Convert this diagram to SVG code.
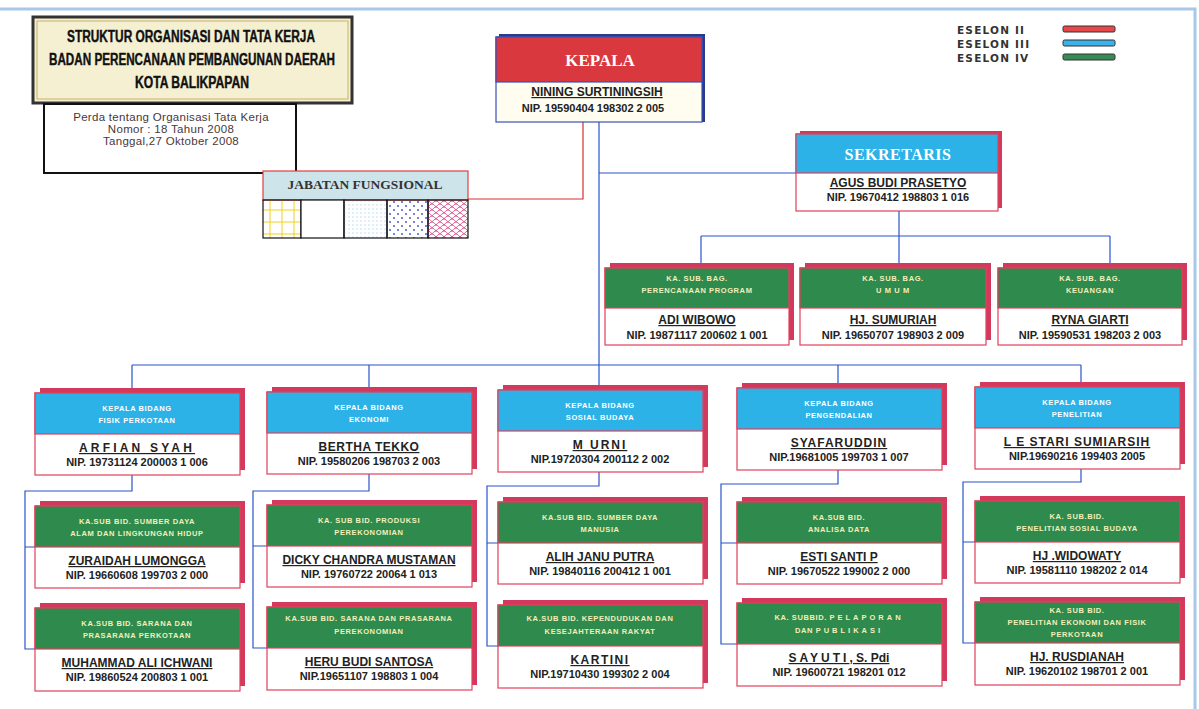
<svg xmlns="http://www.w3.org/2000/svg" width="1199" height="709" viewBox="0 0 1199 709">
<style>
.sh{fill:#d3395d}
.bd{fill:#fff;stroke:#e0405a;stroke-width:1.2}
.hg{fill:#2f8a4e;stroke:#e0405a;stroke-width:1.2}
.hb{fill:#2db2e8;stroke:#e0405a;stroke-width:1.2}
.tg{font-family:"Liberation Sans",Arial,sans-serif;font-weight:bold;font-size:7.5px;fill:#f3efb8;text-anchor:middle;letter-spacing:0.6px}
.tb{font-family:"Liberation Sans",Arial,sans-serif;font-weight:bold;font-size:7.5px;fill:#fff;text-anchor:middle;letter-spacing:0.6px}
.nm{font-family:"Liberation Sans",Arial,sans-serif;font-weight:bold;font-size:12px;fill:#222;text-anchor:middle;text-decoration:underline}
.nip{font-family:"Liberation Sans",Arial,sans-serif;font-weight:bold;font-size:11px;fill:#222;text-anchor:middle}
.ln{stroke:#2a55c8;stroke-width:1.2;fill:none}
.rl{stroke:#d33030;stroke-width:1.2;fill:none}
.big{font-family:"Liberation Serif","Times New Roman",serif;font-weight:bold;fill:#fff;text-anchor:middle}
.ttl{font-family:"Liberation Sans",Arial,sans-serif;font-weight:bold;font-size:16px;fill:#111;text-anchor:middle;stroke:#111;stroke-width:0.4}
.prd{font-family:"Liberation Sans",Arial,sans-serif;font-size:11.5px;fill:#4a3838;text-anchor:middle;letter-spacing:0.3px}
.leg{font-family:"DejaVu Sans",Verdana,sans-serif;font-weight:bold;font-size:10.5px;fill:#333;letter-spacing:1.2px}
.cell{stroke:#111;stroke-width:1.2}
</style>
<defs>
<pattern id="pGrid" width="12" height="12" patternUnits="userSpaceOnUse"><path d="M0 6H12M6 0V12" stroke="#f0cf20" stroke-width="1"/></pattern>
<pattern id="pDotL" width="4" height="4" patternUnits="userSpaceOnUse"><circle cx="1" cy="1" r="0.7" fill="#a9d4ec"/></pattern>
<pattern id="pDotB" width="8" height="8" patternUnits="userSpaceOnUse"><circle cx="2" cy="2" r="1" fill="#4a5ad8"/><circle cx="6" cy="6" r="1" fill="#4a5ad8"/></pattern>
<pattern id="pScale" width="8" height="6" patternUnits="userSpaceOnUse"><path d="M0 6Q4 0 8 6M-4 3Q0 -3 4 3M4 3Q8 -3 12 3" fill="none" stroke="#d03a7a" stroke-width="0.8"/></pattern>
</defs>
<rect width="1199" height="709" fill="#fff"/>
<path d="M0 9H1195V709" fill="none" stroke="#a8c8e8" stroke-width="3"/>

<g id="title">
<rect x="33" y="17" width="319" height="86" fill="#f5f0d2" stroke="#333" stroke-width="3"/>
<rect x="37" y="21" width="311" height="78" fill="none" stroke="#c9b264" stroke-width="1"/>
<text class="ttl" x="191" y="42" textLength="248" lengthAdjust="spacingAndGlyphs">STRUKTUR ORGANISASI DAN TATA KERJA</text>
<text class="ttl" x="192" y="65" textLength="286" lengthAdjust="spacingAndGlyphs">BADAN PERENCANAAN PEMBANGUNAN DAERAH</text>
<text class="ttl" x="192" y="88" textLength="114" lengthAdjust="spacingAndGlyphs">KOTA BALIKPAPAN</text>
</g>
<g id="perda">
<rect x="44" y="104" width="252" height="69" fill="#fff" stroke="#111" stroke-width="2"/>
<text class="prd" x="171" y="121">Perda tentang Organisasi Tata Kerja</text>
<text class="prd" x="171" y="133">Nomor : 18 Tahun  2008</text>
<text class="prd" x="171" y="145">Tanggal,27 Oktober 2008</text>
</g>
<g id="legend">
<text class="leg" x="957" y="34">ESELON II</text>
<text class="leg" x="957" y="48">ESELON III</text>
<text class="leg" x="957" y="62">ESELON IV</text>
<rect x="1063" y="26" width="52" height="6" rx="1.5" fill="#e8474a" stroke="#333" stroke-width="1"/>
<rect x="1063" y="40" width="52" height="6" rx="1.5" fill="#3ab2ea" stroke="#333" stroke-width="1"/>
<rect x="1063" y="54" width="52" height="6" rx="1.5" fill="#3a8a55" stroke="#333" stroke-width="1"/>
</g>

<g id="connectors">
<path class="rl" d="M583 122V199H468"/>
<path class="ln" d="M599 122V390M599 173H796"/>
<path class="ln" d="M899 211V236M701 236H1110M701 236V268M899 236V268M1110 236V268"/>
<path class="ln" d="M132 365H1081M132 365V393M369 365V392M838 365V388M1081 365V387"/>
<path class="ln" d="M132 475V491H25V649H35M25 547H35"/>
<path class="ln" d="M369 474V491H253V648H267M253 546H267"/>
<path class="ln" d="M599 472V486H487V646H498M487 543H498"/>
<path class="ln" d="M838 470V484H721V644H737M721 543H737"/>
<path class="ln" d="M1081 469V482H963V643H975M963 542H975"/>
</g>

<g id="kepala">
<rect x="499" y="34" width="206" height="88" fill="#2a3a8a"/>
<rect x="496" y="37" width="206" height="85" fill="#fffdf0" stroke="#3a50b8" stroke-width="1.2"/>
<rect x="496" y="37" width="206" height="45" fill="#d8383e" stroke="#3a50b8" stroke-width="1.2"/>
<text class="big" x="600" y="66" font-size="17">KEPALA</text>
<text class="nm" x="597" y="96">NINING SURTININGSIH</text>
<text class="nip" x="593" y="112">NIP. 19590404 198302 2 005</text>
</g>

<g id="jabatan-fungsional">
<rect x="263" y="171" width="205" height="29" fill="#cde4ea" stroke="#e04040" stroke-width="1.2"/>
<text x="365" y="189" font-family="Liberation Serif,serif" font-weight="bold" font-size="11.5" fill="#333" text-anchor="middle" textLength="155" lengthAdjust="spacingAndGlyphs">JABATAN FUNGSIONAL</text>
<rect class="cell" x="263" y="200" width="38" height="38" fill="url(#pGrid)"/>
<rect class="cell" x="301" y="200" width="43" height="38" fill="#fff"/>
<rect class="cell" x="344" y="200" width="43" height="38" fill="url(#pDotL)"/>
<rect class="cell" x="387" y="200" width="41" height="38" fill="url(#pDotB)"/>
<rect class="cell" x="428" y="200" width="40" height="38" fill="url(#pScale)"/>
</g>

<g id="sekretaris">
<rect class="sh" x="800" y="131" width="202" height="77"/>
<rect class="bd" x="796" y="134" width="202" height="77"/>
<rect class="hb" x="796" y="134" width="202" height="39"/>
<text class="big" x="898" y="160" font-size="16" letter-spacing="0.5">SEKRETARIS</text>
<text class="nm" x="898" y="187" font-size="11">AGUS BUDI PRASETYO</text>
<text class="nip" x="898" y="201">NIP. 19670412 198803 1 016</text>
</g>

<g id="subbag-program" transform="translate(605,268)">
<rect class="sh" x="5" y="-5" width="184" height="77"/><rect class="bd" width="184" height="77"/><rect class="hg" width="184" height="40"/>
<text class="tg" x="92" y="13">KA. SUB. BAG.</text><text class="tg" x="92" y="25">PERENCANAAN  PROGRAM</text>
<text class="nm" x="92" y="56">ADI  WIBOWO</text><text class="nip" x="92" y="71">NIP. 19871117 200602 1 001</text>
</g>
<g id="subbag-umum" transform="translate(800,268)">
<rect class="sh" x="5" y="-5" width="186" height="77"/><rect class="bd" width="186" height="77"/><rect class="hg" width="186" height="40"/>
<text class="tg" x="93" y="13">KA. SUB. BAG.</text><text class="tg" x="93" y="25" letter-spacing="4">U M U M</text>
<text class="nm" x="93" y="56">HJ. SUMURIAH</text><text class="nip" x="93" y="71">NIP. 19650707 198903 2 009</text>
</g>
<g id="subbag-keuangan" transform="translate(998,268)">
<rect class="sh" x="5" y="-5" width="184" height="77"/><rect class="bd" width="184" height="77"/><rect class="hg" width="184" height="40"/>
<text class="tg" x="92" y="13">KA. SUB. BAG.</text><text class="tg" x="92" y="25">KEUANGAN</text>
<text class="nm" x="92" y="56">RYNA GIARTI</text><text class="nip" x="92" y="71">NIP. 19590531 198203 2 003</text>
</g>

<g id="bidang-fisik" transform="translate(35,393)">
<rect class="sh" x="5" y="-5" width="205" height="82"/><rect class="bd" width="205" height="82"/><rect class="hb" width="205" height="41"/>
<text class="tb" x="102" y="18">KEPALA BIDANG</text><text class="tb" x="102" y="30">FISIK PERKOTAAN</text>
<text class="nm" x="102" y="59" letter-spacing="3.2">ARFIAN SYAH</text><text class="nip" x="102" y="73">NIP. 19731124 200003 1 006</text>
</g>
<g id="bidang-ekonomi" transform="translate(267,392)">
<rect class="sh" x="5" y="-5" width="205" height="82"/><rect class="bd" width="205" height="82"/><rect class="hb" width="205" height="41"/>
<text class="tb" x="102" y="18">KEPALA BIDANG</text><text class="tb" x="102" y="30">EKONOMI</text>
<text class="nm" x="102" y="59" letter-spacing="0.5">BERTHA TEKKO</text><text class="nip" x="102" y="73">NIP. 19580206 198703 2 003</text>
</g>
<g id="bidang-sosbud" transform="translate(498,390)">
<rect class="sh" x="5" y="-5" width="205" height="82"/><rect class="bd" width="205" height="82"/><rect class="hb" width="205" height="41"/>
<text class="tb" x="102" y="18">KEPALA BIDANG</text><text class="tb" x="102" y="30">SOSIAL BUDAYA</text>
<text class="nm" x="102" y="59" letter-spacing="2">M URNI</text><text class="nip" x="102" y="73">NIP.19720304 200112 2 002</text>
</g>
<g id="bidang-pengendalian" transform="translate(737,388)">
<rect class="sh" x="5" y="-5" width="205" height="82"/><rect class="bd" width="205" height="82"/><rect class="hb" width="205" height="41"/>
<text class="tb" x="102" y="18">KEPALA BIDANG</text><text class="tb" x="102" y="30">PENGENDALIAN</text>
<text class="nm" x="102" y="59" letter-spacing="1">SYAFARUDDIN</text><text class="nip" x="102" y="73">NIP.19681005 199703 1 007</text>
</g>
<g id="bidang-penelitian" transform="translate(975,387)">
<rect class="sh" x="5" y="-5" width="205" height="82"/><rect class="bd" width="205" height="82"/><rect class="hb" width="205" height="41"/>
<text class="tb" x="102" y="18">KEPALA BIDANG</text><text class="tb" x="102" y="30">PENELITIAN</text>
<text class="nm" x="102" y="59" letter-spacing="1">L E STARI SUMIARSIH</text><text class="nip" x="102" y="73">NIP.19690216 199403 2005</text>
</g>

<g id="subbid-sda-lh" transform="translate(35,506)">
<rect class="sh" x="5" y="-5" width="205" height="82"/><rect class="bd" width="205" height="82"/><rect class="hg" width="205" height="41"/>
<text class="tg" x="102" y="18">KA.SUB BID.  SUMBER DAYA</text><text class="tg" x="102" y="30">ALAM DAN LINGKUNGAN  HIDUP</text>
<text class="nm" x="102" y="59">ZURAIDAH LUMONGGA</text><text class="nip" x="102" y="73">NIP. 19660608 199703 2 000</text>
</g>
<g id="subbid-produksi" transform="translate(267,505)">
<rect class="sh" x="5" y="-5" width="205" height="82"/><rect class="bd" width="205" height="82"/><rect class="hg" width="205" height="41"/>
<text class="tg" x="102" y="18">KA. SUB BID. PRODUKSI</text><text class="tg" x="102" y="30">PEREKONOMIAN</text>
<text class="nm" x="102" y="59">DICKY CHANDRA MUSTAMAN</text><text class="nip" x="102" y="73">NIP. 19760722 20064 1 013</text>
</g>
<g id="subbid-sdm" transform="translate(498,502)">
<rect class="sh" x="5" y="-5" width="205" height="82"/><rect class="bd" width="205" height="82"/><rect class="hg" width="205" height="41"/>
<text class="tg" x="102" y="18">KA.SUB BID.  SUMBER DAYA</text><text class="tg" x="102" y="30">MANUSIA</text>
<text class="nm" x="102" y="59">ALIH JANU PUTRA</text><text class="nip" x="102" y="73">NIP. 19840116 200412 1 001</text>
</g>
<g id="subbid-analisa" transform="translate(737,502)">
<rect class="sh" x="5" y="-5" width="205" height="82"/><rect class="bd" width="205" height="82"/><rect class="hg" width="205" height="41"/>
<text class="tg" x="102" y="18">KA.SUB BID.</text><text class="tg" x="102" y="30">ANALISA DATA</text>
<text class="nm" x="102" y="59">ESTI SANTI P</text><text class="nip" x="102" y="73">NIP. 19670522 199002 2 000</text>
</g>
<g id="subbid-sosbud" transform="translate(975,501)">
<rect class="sh" x="5" y="-5" width="205" height="82"/><rect class="bd" width="205" height="82"/><rect class="hg" width="205" height="41"/>
<text class="tg" x="102" y="18">KA. SUB.BID.</text><text class="tg" x="102" y="30">PENELITIAN SOSIAL BUDAYA</text>
<text class="nm" x="102" y="59">HJ .WIDOWATY</text><text class="nip" x="102" y="73">NIP. 19581110 198202 2 014</text>
</g>

<g id="subbid-sarana-kota" transform="translate(35,608)">
<rect class="sh" x="5" y="-5" width="205" height="83"/><rect class="bd" width="205" height="83"/><rect class="hg" width="205" height="41"/>
<text class="tg" x="102" y="18">KA.SUB BID.  SARANA DAN</text><text class="tg" x="102" y="30">PRASARANA  PERKOTAAN</text>
<text class="nm" x="102" y="59">MUHAMMAD ALI ICHWANI</text><text class="nip" x="102" y="73">NIP. 19860524 200803 1 001</text>
</g>
<g id="subbid-sarana-eko" transform="translate(267,607)">
<rect class="sh" x="5" y="-5" width="205" height="83"/><rect class="bd" width="205" height="83"/><rect class="hg" width="205" height="41"/>
<text class="tg" x="102" y="14">KA.SUB BID.  SARANA DAN PRASARANA</text><text class="tg" x="102" y="27">PEREKONOMIAN</text>
<text class="nm" x="102" y="59">HERU  BUDI  SANTOSA</text><text class="nip" x="102" y="73">NIP.19651107 198803 1 004</text>
</g>
<g id="subbid-kependudukan" transform="translate(498,605)">
<rect class="sh" x="5" y="-5" width="205" height="83"/><rect class="bd" width="205" height="83"/><rect class="hg" width="205" height="41"/>
<text class="tg" x="102" y="16">KA.SUB BID. KEPENDUDUKAN  DAN</text><text class="tg" x="102" y="29">KESEJAHTERAAN RAKYAT</text>
<text class="nm" x="102" y="59" letter-spacing="1.5">KARTINI</text><text class="nip" x="102" y="73">NIP.19710430 199302 2 004</text>
</g>
<g id="subbid-pelaporan" transform="translate(737,603)">
<rect class="sh" x="5" y="-5" width="205" height="83"/><rect class="bd" width="205" height="83"/><rect class="hg" width="205" height="41"/>
<text class="tg" x="102" y="17">KA. SUBBID. <tspan letter-spacing="3">PELAPORAN</tspan></text><text class="tg" x="102" y="30">DAN  <tspan letter-spacing="3">PUBLIKASI</tspan></text>
<text class="nm" x="102" y="59"><tspan letter-spacing="3">SAYUTI</tspan>, S. Pdi</text><text class="nip" x="102" y="73">NIP. 19600721 198201 012</text>
</g>
<g id="subbid-ekonomi-fisik" transform="translate(975,602)">
<rect class="sh" x="5" y="-5" width="205" height="83"/><rect class="bd" width="205" height="83"/><rect class="hg" width="205" height="41"/>
<text class="tg" x="102" y="11">KA. SUB BID.</text><text class="tg" x="102" y="23">PENELITIAN EKONOMI DAN FISIK</text><text class="tg" x="102" y="35">PERKOTAAN</text>
<text class="nm" x="102" y="59">HJ. RUSDIANAH</text><text class="nip" x="102" y="73">NIP. 19620102 198701 2 001</text>
</g>
</svg>
